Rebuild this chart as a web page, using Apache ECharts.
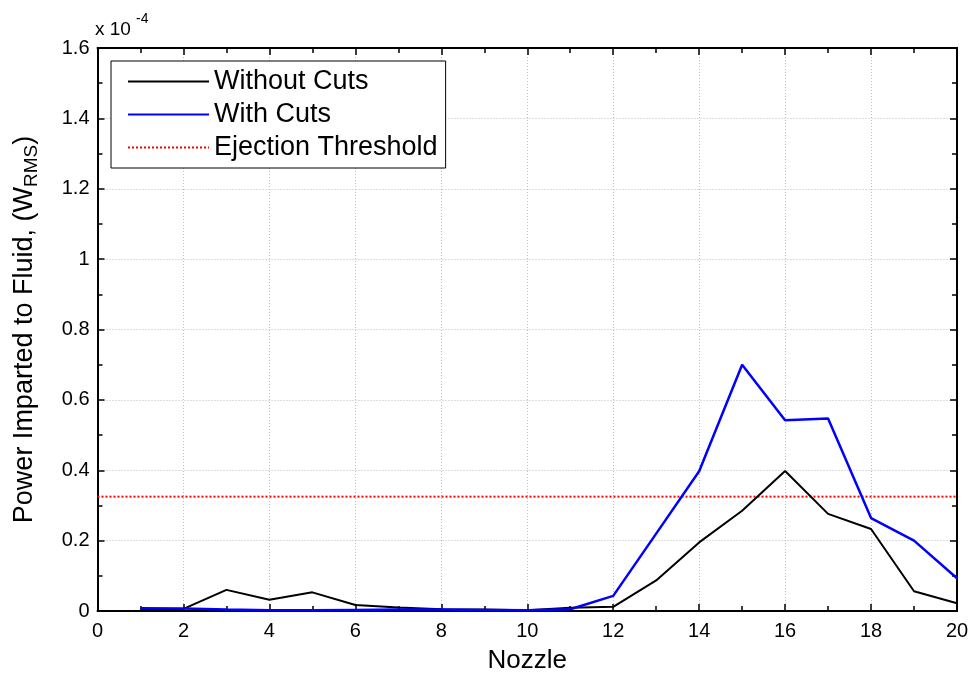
<!DOCTYPE html>
<html>
<head>
<meta charset="utf-8">
<script src="https://cdn.jsdelivr.net/npm/echarts@6/dist/echarts.min.js"></script>
<style>
  html, body { margin: 0; padding: 0; background: #fff; }
  #chart { width: 974px; height: 679px; }
</style>
</head>
<body>
<div id="chart"></div>
<script>
// Nozzle index along the head
const nozzles = [1, 2, 3, 4, 5, 6, 7, 8, 9, 10, 11, 12, 13, 14, 15, 16, 17, 18, 19, 20];
// RMS power delivered to the fluid, in units of 1e-4 W
const withoutCuts = [0.006, 0.006, 0.060, 0.032, 0.053, 0.017, 0.010, 0.005, 0.004, 0.002, 0.009, 0.012, 0.087, 0.195, 0.285, 0.398, 0.276, 0.233, 0.056, 0.022];
const withCuts = [0.008, 0.007, 0.004, 0.002, 0.002, 0.003, 0.004, 0.004, 0.003, 0.002, 0.005, 0.043, 0.220, 0.397, 0.700, 0.542, 0.547, 0.264, 0.200, 0.093];
// Ejection threshold level (1e-4 W)
const thresholdLevel = 0.325;
const xTicks = [0, 2, 4, 6, 8, 10, 12, 14, 16, 18, 20];
const yTicks = [0, 0.2, 0.4, 0.6, 0.8, 1, 1.2, 1.4, 1.6];

const FONT = '"Liberation Sans", Arial, Helvetica, sans-serif';

const pair = (xs, ys) => xs.map((x, i) => [x, ys[i]]);

const chart = echarts.init(document.getElementById('chart'), null, { renderer: 'canvas' });

// shared styling for the boxed axes: ticks point into the plot
const tickBase = () => ({
  axisLine: { show: true, onZero: false, lineStyle: { color: '#000', width: 2 } },
  axisTick: { show: true, inside: true, length: 7, lineStyle: { color: '#000', width: 1.5 } },
  minorTick: { show: true, splitNumber: 2, length: 5, lineStyle: { color: '#000', width: 1.5 } }
});

const gridLine = { show: true, lineStyle: { color: '#bdbdbd', width: 1, type: [1, 2] } };

const option = {
  backgroundColor: '#fff',
  animation: false,
  grid: { left: 97, top: 48, right: 17, bottom: 67, containLabel: false },
  legend: {
    orient: 'vertical',
    left: 111,
    top: 61,
    padding: [7, 8, 7, 16],
    itemWidth: 81,
    itemHeight: 14,
    itemGap: 6,
    backgroundColor: '#fff',
    borderColor: '#000',
    borderWidth: 1,
    itemStyle: { opacity: 0 },
    textStyle: { fontFamily: FONT, fontSize: 27, color: '#000', lineHeight: 26 },
    data: ['Without Cuts', 'With Cuts', 'Ejection Threshold']
  },
  xAxis: [
    Object.assign(tickBase(), {
      type: 'value', min: xTicks[0], max: xTicks[xTicks.length - 1], interval: 2,
      position: 'bottom',
      name: 'Nozzle', nameLocation: 'middle', nameGap: 37,
      nameTextStyle: { fontFamily: FONT, fontSize: 26, color: '#000' },
      axisLabel: { fontFamily: FONT, fontSize: 20, color: '#000', margin: 10 },
      splitLine: gridLine
    }),
    Object.assign(tickBase(), {
      type: 'value', min: xTicks[0], max: xTicks[xTicks.length - 1], interval: 2,
      position: 'top', axisLabel: { show: false }, splitLine: { show: false }
    })
  ],
  yAxis: [
    Object.assign(tickBase(), {
      type: 'value', min: yTicks[0], max: yTicks[yTicks.length - 1], interval: 0.2,
      position: 'left',
      name: '{m|Power Imparted to Fluid, (W}{s|RMS}{m|)}',
      nameLocation: 'middle', nameRotate: 90, nameGap: 58,
      nameTextStyle: {
        rich: {
          m: { fontFamily: FONT, fontSize: 27, color: '#000', lineHeight: 30 },
          s: { fontFamily: FONT, fontSize: 19, color: '#000', lineHeight: 30, padding: [14, 0, 0, 0] }
        }
      },
      axisLabel: {
        fontFamily: FONT, fontSize: 20, color: '#000', margin: 8,
        formatter: v => String(Math.round(v * 10) / 10)
      },
      splitLine: gridLine
    }),
    Object.assign(tickBase(), {
      type: 'value', min: yTicks[0], max: yTicks[yTicks.length - 1], interval: 0.2,
      position: 'right', axisLabel: { show: false }, splitLine: { show: false }
    })
  ],
  graphic: [
    { type: 'text', left: 95, top: 20, style: { text: 'x 10', font: '19px ' + FONT, fill: '#000' } },
    { type: 'text', left: 136, top: 12, style: { text: '-4', font: '14px ' + FONT, fill: '#000' } }
  ],
  series: [
    {
      name: 'Without Cuts', type: 'line', symbol: 'none', z: 3,
      data: pair(nozzles, withoutCuts),
      itemStyle: { color: '#000' },
      lineStyle: { color: '#000', width: 2 }
    },
    {
      name: 'With Cuts', type: 'line', symbol: 'none', z: 4,
      data: pair(nozzles, withCuts),
      itemStyle: { color: '#0000ff' },
      lineStyle: { color: '#0000ff', width: 2.5 }
    },
    {
      name: 'Ejection Threshold', type: 'line', symbol: 'none', z: 2,
      data: [[xTicks[0], thresholdLevel], [xTicks[xTicks.length - 1], thresholdLevel]],
      itemStyle: { color: '#ff0000' },
      lineStyle: { color: '#ff0000', width: 2, type: [2, 2] }
    }
  ]
};

chart.setOption(option);
</script>
</body>
</html>
